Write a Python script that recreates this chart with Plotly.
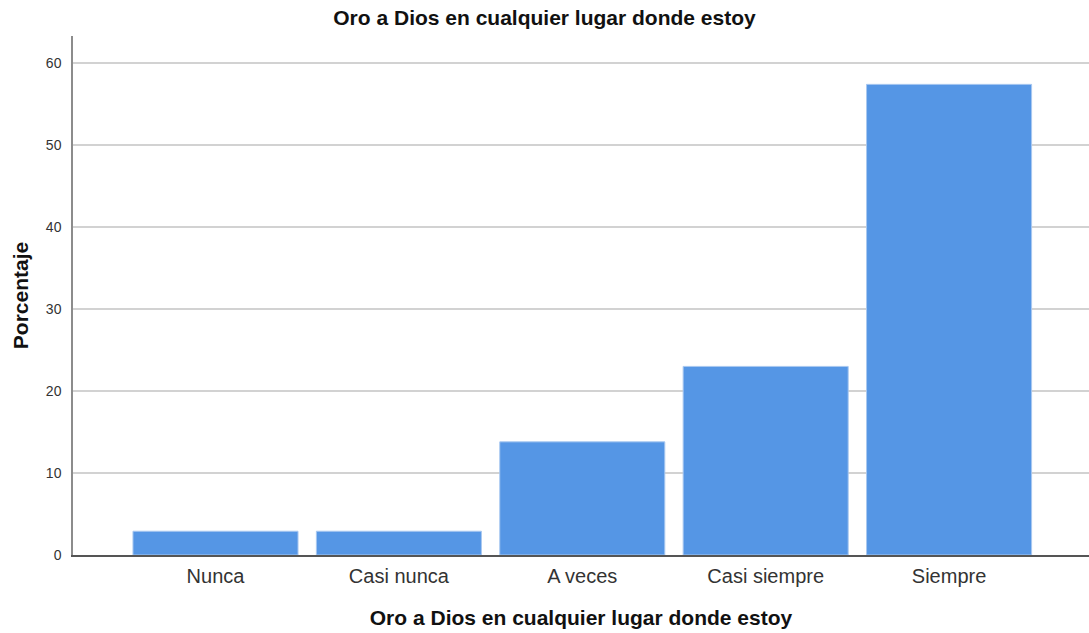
import plotly.graph_objects as go

categories = ["Nunca", "Casi nunca", "A veces", "Casi siempre", "Siempre"]
percentages = [2.9, 2.9, 13.8, 23.0, 57.4]
y_ticks = [0, 10, 20, 30, 40, 50, 60]
title_text = "Oro a Dios en cualquier lugar donde estoy"
y_title = "Porcentaje"

FONT = "Arial, Liberation Sans, sans-serif"

fig = go.Figure(
    go.Bar(
        x=categories,
        y=percentages,
        marker=dict(color="#5596e5", line=dict(color="#a9c8f0", width=1)),
        hoverinfo="x+y",
    )
)

fig.update_layout(
    width=1089,
    height=633,
    paper_bgcolor="white",
    plot_bgcolor="white",
    margin=dict(l=73, r=0, t=36, b=78),
    bargap=0.1,
    showlegend=False,
    font=dict(family=FONT, color="#222222"),
    title=dict(
        text="<b>" + title_text + "</b>",
        x=0.5,
        xref="container",
        xanchor="center",
        y=1 - 18 / 633,
        yref="container",
        yanchor="middle",
        font=dict(size=21, color="#111111", family=FONT),
    ),
)

fig.update_xaxes(
    type="category",
    range=[-0.777, 4.763],
    showline=True,
    linecolor="#555555",
    linewidth=1.5,
    showgrid=False,
    ticks="",
    tickfont=dict(size=20, color="#333333"),
    ticklabelstandoff=2,
    title=dict(text="<b>" + title_text + "</b>", font=dict(size=21, color="#111111"), standoff=25),
)

fig.update_yaxes(
    range=[0, 63.3],
    tickvals=y_ticks,
    showline=True,
    linecolor="#8c8c8c",
    linewidth=1.5,
    showgrid=True,
    gridcolor="#d2d2d2",
    gridwidth=1.5,
    zeroline=False,
    ticks="",
    ticklabelstandoff=7,
    tickfont=dict(size=14, color="#333333"),
    title=dict(text="<b>" + y_title + "</b>", font=dict(size=21, color="#111111"), standoff=12),
)

fig.write_html(
    "out.html",
    config={"displayModeBar": False},
    post_script="document.body.style.margin='0';document.body.style.overflow='hidden';",
)
